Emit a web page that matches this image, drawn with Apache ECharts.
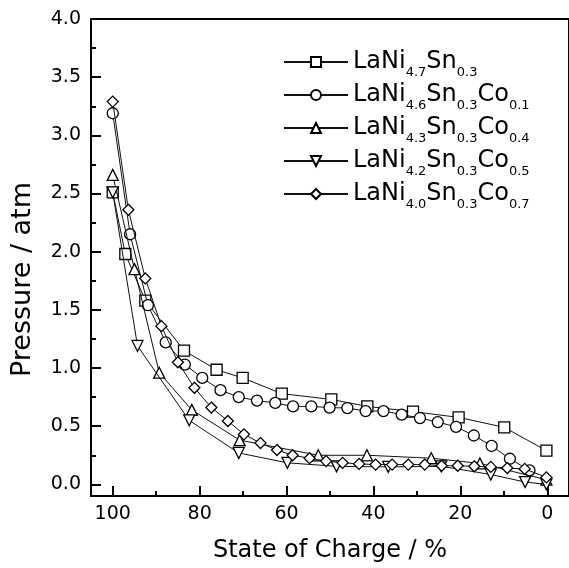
<!DOCTYPE html>
<html>
<head>
<meta charset="utf-8">
<script src="https://cdn.jsdelivr.net/npm/echarts@6/dist/echarts.min.js"></script>
<style>
html,body{margin:0;padding:0;background:#fff;}
#chart{width:569px;height:568px;}
</style>
</head>
<body>
<div id="chart"></div>
<script>
// Series 1: LaNi4.7Sn0.3 (squares)
const soc1 = [100, 97.1, 92.5, 83.6, 76.1, 70.1, 61.1, 49.7, 41.4, 30.9, 20.4, 9.9, 0.2];
const p1   = [2.51, 1.98, 1.58, 1.15, 0.985, 0.915, 0.78, 0.73, 0.67, 0.625, 0.576, 0.49, 0.29];
// Series 2: LaNi4.6Sn0.3Co0.1 (circles)
const soc2 = [100, 96.0, 91.9, 87.8, 83.4, 79.4, 75.2, 71.0, 66.8, 62.6, 58.5, 54.3, 50.1, 46.0, 41.8, 37.7, 33.5, 29.3, 25.2, 21.0, 16.9, 12.8, 8.6, 4.1];
const p2   = [3.19, 2.15, 1.54, 1.22, 1.03, 0.915, 0.81, 0.75, 0.72, 0.70, 0.67, 0.67, 0.66, 0.656, 0.63, 0.63, 0.60, 0.57, 0.535, 0.495, 0.42, 0.33, 0.22, 0.12];
// Series 3: LaNi4.3Sn0.3Co0.4 (up triangles)
const soc3 = [100, 95.0, 89.3, 81.8, 70.8, 52.7, 41.5, 26.7, 15.5, 0.2];
const p3   = [2.66, 1.85, 0.96, 0.64, 0.38, 0.25, 0.25, 0.225, 0.18, 0.04];
// Series 4: LaNi4.2Sn0.3Co0.5 (down triangles)
const soc4 = [100, 94.3, 82.4, 71.0, 59.8, 48.5, 36.6, 24.4, 13.0, 5.1, 0.2];
const p4   = [2.51, 1.19, 0.55, 0.27, 0.185, 0.155, 0.15, 0.155, 0.085, 0.02, 0.0];
// Series 5: LaNi4.0Sn0.3Co0.7 (diamonds)
const soc5 = [100, 96.4, 92.5, 88.8, 85.0, 81.2, 77.3, 73.5, 69.8, 66.0, 62.2, 58.6, 54.7, 50.9, 47.1, 43.3, 39.5, 35.7, 32.0, 28.2, 24.3, 20.6, 16.8, 13.0, 9.2, 5.2, 0.2];
const p5   = [3.29, 2.36, 1.77, 1.36, 1.05, 0.83, 0.66, 0.545, 0.43, 0.355, 0.295, 0.25, 0.225, 0.2, 0.185, 0.176, 0.17, 0.17, 0.17, 0.17, 0.16, 0.16, 0.155, 0.15, 0.14, 0.133, 0.06];

// Legend formula parts
const names = ['LaNi4.7Sn0.3', 'LaNi4.6Sn0.3Co0.1', 'LaNi4.3Sn0.3Co0.4', 'LaNi4.2Sn0.3Co0.5', 'LaNi4.0Sn0.3Co0.7'];
const niSub = ['4.7', '4.6', '4.3', '4.2', '4.0'];
const snSub = ['0.3', '0.3', '0.3', '0.3', '0.3'];
const coSub = ['', '0.1', '0.4', '0.5', '0.7'];

// Tick values
const xMajor = [0, 20, 40, 60, 80, 100];
const xMinor = [10, 30, 50, 70, 90];
const yMajor = [0, 0.5, 1.0, 1.5, 2.0, 2.5, 3.0, 3.5, 4.0];
const yMinor = [0.25, 0.75, 1.25, 1.75, 2.25, 2.75, 3.25, 3.75];

const FONT = 'DejaVu Sans';
const symbols = ['rect', 'circle', 'triangle', 'path://M0,0L10,0L5,10Z', 'diamond'];
const socs = [soc1, soc2, soc3, soc4, soc5];
const ps = [p1, p2, p3, p4, p5];

function pairs(xs, ys) { return xs.map((x, i) => [x, ys[i]]); }

const series = names.map((n, i) => ({
  name: n,
  type: 'line',
  xAxisIndex: 0,
  yAxisIndex: 0,
  data: pairs(socs[i], ps[i]),
  symbol: symbols[i],
  symbolSize: 11,
  showAllSymbol: true,
  itemStyle: { color: '#fff', borderColor: '#000', borderWidth: 1.3 },
  lineStyle: { color: '#111', width: 1 },
  emphasis: { disabled: true },
  animation: false,
  z: 2 + i
}));

const chart = echarts.init(document.getElementById('chart'), null, { renderer: 'canvas' });
chart.setOption({
  backgroundColor: '#fff',
  animation: false,
  grid: {
    left: 91, top: 19, width: 481, height: 481,
    show: true, borderColor: '#000', borderWidth: 2, backgroundColor: 'transparent'
  },
  legend: {
    orient: 'vertical',
    left: 283, top: 50,
    padding: 0,
    itemGap: 4,
    itemWidth: 64,
    itemHeight: 12.5,
    selectedMode: false,
    data: names,
    formatter: function (name) {
      const i = names.indexOf(name);
      let s = '{m|LaNi}{s|' + niSub[i] + '}{m|Sn}{s|' + snSub[i] + '}';
      if (coSub[i]) s += '{m|Co}{s|' + coSub[i] + '}';
      return s;
    },
    textStyle: {
      color: '#000',
      fontFamily: FONT,
      rich: {
        m: { fontSize: 24, fontFamily: FONT, color: '#000' },
        s: { fontSize: 13, fontFamily: FONT, color: '#000', padding: [21, 0, 0, 0] }
      }
    }
  },
  xAxis: [
    {
      type: 'value', inverse: true, min: -5, max: 105, position: 'bottom',
      axisLine: { show: true, onZero: false, lineStyle: { color: '#000', width: 2 } },
      axisTick: { show: true, inside: true, length: 10, customValues: xMajor, lineStyle: { color: '#000', width: 2 } },
      axisLabel: { show: true, customValues: xMajor, fontSize: 19, fontFamily: FONT, color: '#000', margin: 9 },
      splitLine: { show: false },
      name: 'State of Charge / %', nameLocation: 'middle', nameGap: 43,
      nameTextStyle: { fontSize: 24, fontFamily: FONT, color: '#000' }
    },
    {
      type: 'value', inverse: true, min: -5, max: 105, position: 'bottom',
      axisLine: { show: false, onZero: false },
      axisTick: { show: true, inside: true, length: 5, customValues: xMinor, lineStyle: { color: '#000', width: 2 } },
      axisLabel: { show: false },
      splitLine: { show: false }
    }
  ],
  yAxis: [
    {
      type: 'value', min: -0.1, max: 4.0, position: 'left',
      axisLine: { show: true, onZero: false, lineStyle: { color: '#000', width: 2 } },
      axisTick: { show: true, inside: true, length: 10, customValues: yMajor, lineStyle: { color: '#000', width: 2 } },
      axisLabel: { show: true, customValues: yMajor, fontSize: 19, fontFamily: FONT, color: '#000', margin: 10,
        formatter: v => Number(v).toFixed(1) },
      splitLine: { show: false },
      name: 'Pressure / atm', nameLocation: 'middle', nameGap: 55,
      nameTextStyle: { fontSize: 27, fontFamily: FONT, color: '#000', padding: [0, 44, 0, 0] }
    },
    {
      type: 'value', min: -0.1, max: 4.0, position: 'left', offset: 0,
      axisLine: { show: false, onZero: false },
      axisTick: { show: true, inside: true, length: 5, customValues: yMinor, lineStyle: { color: '#000', width: 2 } },
      axisLabel: { show: false },
      splitLine: { show: false }
    }
  ],
  series: series
});
</script>
</body>
</html>
